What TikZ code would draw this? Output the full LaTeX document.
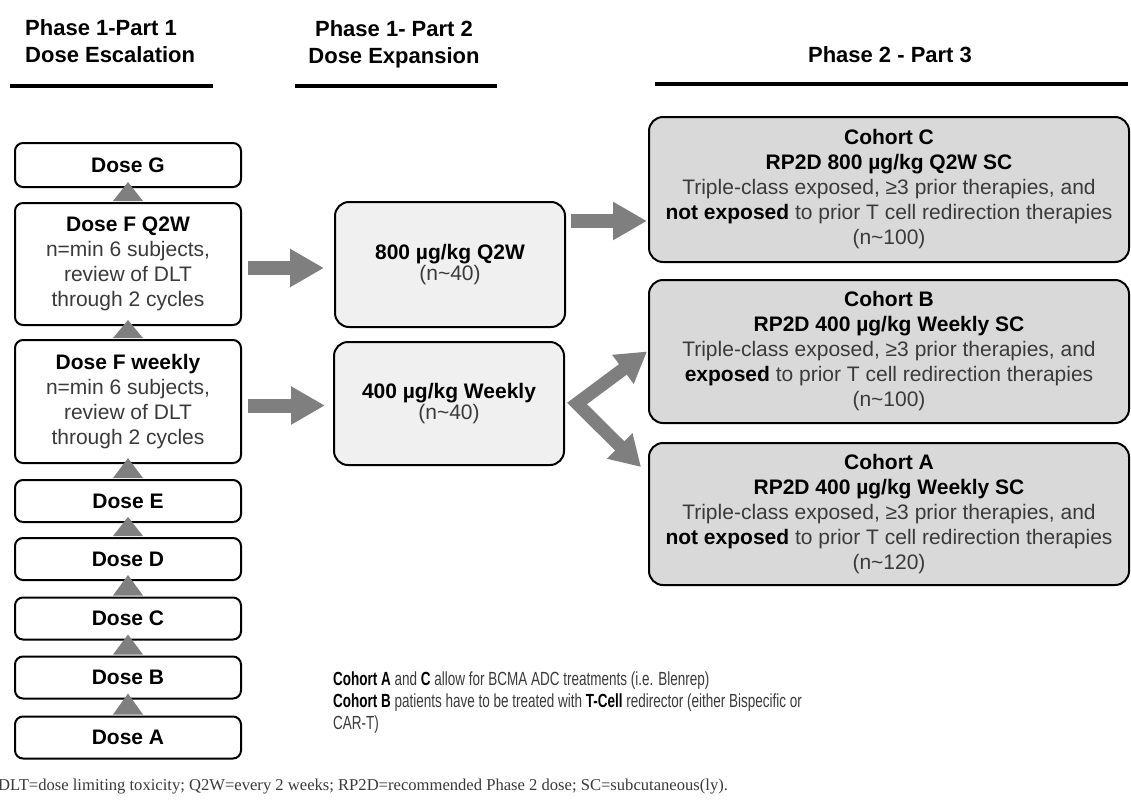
\documentclass[tikz,border=0pt]{standalone}
\usepackage{fontspec}
\setmainfont{Liberation Sans}
\newfontfamily\notefont{Liberation Sans}[FakeStretch=0.71]
\newfontfamily\keyfont{Liberation Serif}
\usepackage{xcolor}
\usepackage{tikz}
\usetikzlibrary{arrows.meta,calc,positioning}
\definecolor{arrowgray}{HTML}{7F7F7F}
\definecolor{boxlight}{HTML}{F0F0F0}
\definecolor{boxgray}{HTML}{D9D9D9}
\definecolor{bodytext}{HTML}{3A3A3A}
\newcommand{\boldline}[1]{{\color{black}\bfseries #1}}
\tikzset{
  dosebox/.style={draw=black,line width=2pt,rounded corners=8pt,fill=white,
    minimum width=226pt,minimum height=42pt,inner sep=0pt,align=center,
    text=bodytext,font=\fontsize{21pt}{25pt}\selectfont},
  expbox/.style={draw=black,line width=2pt,rounded corners=14pt,fill=boxlight,
    minimum width=230pt,inner sep=0pt,align=center,
    text=bodytext,font=\fontsize{21pt}{19pt}\selectfont},
  cohortbox/.style={draw=black,line width=2pt,rounded corners=14pt,fill=boxgray,
    minimum width=480pt,inner sep=0pt,align=center,
    text=bodytext,font=\fontsize{21pt}{25pt}\selectfont},
  phasehead/.style={font=\fontsize{22pt}{27pt}\selectfont\bfseries,inner sep=0pt},
  headrule/.style={line width=4pt,black},
  bigarrow/.style={draw=arrowgray,line width=14pt,-{Triangle[length=34pt,width=36pt]}},
  forkarrow/.style={draw=arrowgray,line width=13pt,line join=miter,
    {Triangle[length=30pt,width=34pt]}-{Triangle[length=30pt,width=34pt]}}
}
\begin{document}
\begin{tikzpicture}[x=1pt,y=-1pt]
  \useasboundingbox[fill=white] (0,0) rectangle (1131,803);
  % headings
  \node[phasehead,align=left,anchor=west] (h1) at (25,41.5) {Phase 1-Part 1\\Dose Escalation};
  \node[phasehead,align=center] (h2) at (394,44) {Phase 1- Part 2\\Dose Expansion};
  \node[phasehead] (h3) at (890,55) {Phase 2 - Part 3};
  \draw[headrule] (10,86) -- (213,86);
  \draw[headrule] (295,86) -- (497,86);
  \draw[headrule] (655,84) -- (1128,84);
  % dose escalation
  \node[dosebox,minimum height=44pt] (dg) at (128,165) {\boldline{Dose G}};
  \node[dosebox,minimum height=122pt] (fq) at (128,264)
    {\boldline{Dose F Q2W}\\n=min 6 subjects,\\review of DLT\\through 2 cycles};
  \node[dosebox,minimum height=123pt] (fw) at (128,401.5)
    {\boldline{Dose F weekly}\\n=min 6 subjects,\\review of DLT\\through 2 cycles};
  \node[dosebox] (de) at (128,501) {\boldline{Dose E}};
  \node[dosebox] (dd) at (128,559) {\boldline{Dose D}};
  \node[dosebox] (dc) at (128,618.5) {\boldline{Dose C}};
  \node[dosebox] (db) at (128,677.5) {\boldline{Dose B}};
  \node[dosebox] (da) at (128,737.5) {\boldline{Dose A}};
  \foreach \lo/\hi in {fq/dg,fw/fq,de/fw,dd/de,dc/dd,db/dc,da/db}
    \fill[arrowgray] ($(\lo.north)+(-15,-1)$) -- ($(\lo.north)+(15,-1)$)
      -- ($(\hi.south)+(0,-6)$) -- cycle;
  % dose expansion
  \node[expbox,minimum height=125pt] (mq) at (450,264.5)
    {\boldline{800 µg/kg Q2W}\\(n\textasciitilde40)};
  \node[expbox,minimum height=123pt] (mw) at (449,403.5)
    {\boldline{400 µg/kg Weekly}\\(n\textasciitilde40)};
  \draw[bigarrow] ([xshift=6pt,yshift=-4pt]fq.east) -- ([xshift=-10pt,yshift=-4pt]fq.east -| mq.west);
  \draw[bigarrow] ([xshift=6pt,yshift=-4pt]fw.east) -- ([xshift=-8pt,yshift=-4pt]fw.east -| mw.west);
  % phase 2 cohorts
  \node[cohortbox,minimum height=145pt] (cc) at (889,189.5)
    {\boldline{Cohort C}\\\boldline{RP2D 800 µg/kg Q2W SC}\\Triple-class exposed, ≥3 prior therapies, and\\
     \boldline{not exposed} to prior T cell redirection therapies\\(n\textasciitilde100)};
  \node[cohortbox,minimum height=143pt] (cb) at (889,351.5)
    {\boldline{Cohort B}\\\boldline{RP2D 400 µg/kg Weekly SC}\\Triple-class exposed, ≥3 prior therapies, and\\
     \boldline{exposed} to prior T cell redirection therapies\\(n\textasciitilde100)};
  \node[cohortbox,minimum height=142pt] (ca) at (889,514)
    {\boldline{Cohort A}\\\boldline{RP2D 400 µg/kg Weekly SC}\\Triple-class exposed, ≥3 prior therapies, and\\
     \boldline{not exposed} to prior T cell redirection therapies\\(n\textasciitilde120)};
  \coordinate (mqC) at ($(mq.north east)+(5,20)$);
  \draw[bigarrow] (mqC) -- ([xshift=-1pt]mqC -| cc.west);
  \coordinate (fork) at ($(mw.east)+(12,0)$);
  \coordinate (caTip) at ($(ca.north west)+(-7,25)$);
  \draw[forkarrow] ([xshift=-1pt]cb.west) -- (fork) -- (caTip);
  % notes
  \node[anchor=north west,inner sep=0pt,align=left,text=bodytext,
    font=\notefont\fontsize{19pt}{22pt}\selectfont] (notes) at (333,672)
    {{\color{black}\bfseries Cohort A} and {\color{black}\bfseries C} allow for BCMA ADC treatments (i.e. Blenrep)\\
     {\color{black}\bfseries Cohort B} patients have to be treated with {\color{black}\bfseries T-Cell} redirector (either Bispecific or\\
     CAR-T)};
  \node[anchor=west,inner sep=0pt,text=bodytext,font=\keyfont\fontsize{16.6pt}{20pt}\selectfont] (key) at (-2,787)
    {DLT=dose limiting toxicity; Q2W=every 2 weeks; RP2D=recommended Phase 2 dose; SC=subcutaneous(ly).};
\end{tikzpicture}
\end{document}
